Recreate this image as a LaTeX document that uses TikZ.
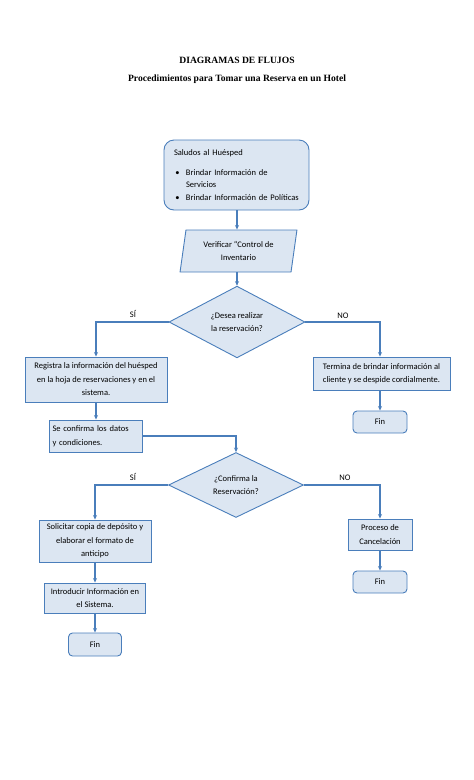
\documentclass[tikz,border=0pt]{standalone}
\usepackage{fontspec}
\setmainfont{Carlito}
\newfontfamily\titlefont{Liberation Serif}
\usetikzlibrary{arrows.meta,positioning,shapes.geometric}
\definecolor{edge}{HTML}{4A7EBB}
\definecolor{pale}{HTML}{DCE6F2}
\definecolor{ink}{HTML}{000000}
\tikzset{
  box/.style={rectangle, draw=edge, fill=pale, line width=0.9pt, align=center,
              font=\fontsize{8.5}{13.5}\selectfont, inner sep=2pt, text=ink},
  endbox/.style={box, rounded corners=4pt},
  datbox/.style={box, trapezium, trapezium left angle=80, trapezium right angle=100,
                 trapezium stretches=true},
  gate/.style={box, diamond, inner sep=0pt},
  fl/.style={-{Stealth[length=4.5pt,width=4pt]}, draw=edge, line width=1.3pt},
  lbl/.style={font=\fontsize{8.5}{10}\selectfont, text=ink}
}
\begin{document}
\begin{tikzpicture}[x=1pt, y=-1pt]
  \useasboundingbox (0,0) rectangle (474,780);
  % titles
  \node[font=\titlefont\bfseries\fontsize{9.6}{12}\selectfont] (tit) at (237,60) {DIAGRAMAS DE FLUJOS};
  \node[font=\titlefont\bfseries\fontsize{9.6}{12}\selectfont] (sub) at (237,79) {Procedimientos para Tomar una Reserva en un Hotel};
  % main column
  \node[box, rounded corners=10pt, minimum width=145pt, minimum height=70pt,
        text width=125pt, align=left, font=\fontsize{8.5}{12.5}\selectfont] (sal) at (236.5,175)
    {Saludos al Huésped\\[7pt]
     \makebox[12pt][l]{\,•}Brindar Información de\\
     \hspace*{12pt}Servicios\\
     \makebox[12pt][l]{\,•}Brindar Información de Políticas};
  \node[datbox, minimum width=117pt, minimum height=42pt] (ver) at (238.5,251)
    {Verificar “Control de\\Inventario};
  \node[gate, minimum width=136pt, minimum height=64pt] (ask) at (237,322)
    {¿Desea realizar\\la reservación?};
  % left branch
  \node[box, minimum width=142pt, minimum height=45pt] (reg) at (96,379.5)
    {Registra la información del huésped\\en la hoja de reservaciones y en el\\sistema.};
  \node[box, minimum width=93pt, minimum height=32pt, text width=87pt, align=left] (conf) at (96,436)
    {Se confirma los datos\\y condiciones.};
  \node[gate, minimum width=135pt, minimum height=62pt] (chk) at (236,485)
    {¿Confirma la\\Reservación?};
  \node[box, minimum width=112pt, minimum height=42pt] (sol) at (95,541)
    {Solicitar copia de depósito y\\elaborar el formato de\\anticipo};
  \node[box, minimum width=101pt, minimum height=30pt] (intro) at (95,598)
    {Introducir Información en\\el Sistema.};
  \node[endbox, minimum width=53pt, minimum height=23pt] (finA) at (95,644.5) {Fin};
  % right branch
  \node[box, minimum width=137pt, minimum height=33pt] (term) at (381.5,373.5)
    {Termina de brindar información al\\cliente y se despide cordialmente.};
  \node[endbox, minimum width=54pt, minimum height=22pt] (finB) at (380,422) {Fin};
  \node[box, minimum width=64pt, minimum height=31pt] (canc) at (380,534.5)
    {Proceso de\\Cancelación};
  \node[endbox, minimum width=54pt, minimum height=22pt] (finC) at (380,582) {Fin};
  % connectors
  \draw[fl] (sal.south -| ask.north) -- (ver.north -| ask.north);
  \draw[fl] (ver.south -| ask.north) -- (ask);
  \draw[fl] (ask.west) -| (reg.north);
  \draw[fl] (ask.east) -| (finB.north |- term.north);
  \draw[fl] (reg) -- (conf);
  \draw[fl] (conf.east) -| (chk.north);
  \draw[fl] (chk.west) -| (sol.north);
  \draw[fl] (chk.east) -| (canc.north);
  \draw[fl] (sol) -- (intro);
  \draw[fl] (intro) -- (finA);
  \draw[fl] (term.south -| finB.north) -- (finB);
  \draw[fl] (canc) -- (finC);
  % branch labels
  \node[lbl] (si1) at (133,314) {SÍ};
  \node[lbl] (no1) at (343,316) {NO};
  \node[lbl] (si2) at (133,477) {SÍ};
  \node[lbl] (no2) at (345,478) {NO};
\end{tikzpicture}
\end{document}
